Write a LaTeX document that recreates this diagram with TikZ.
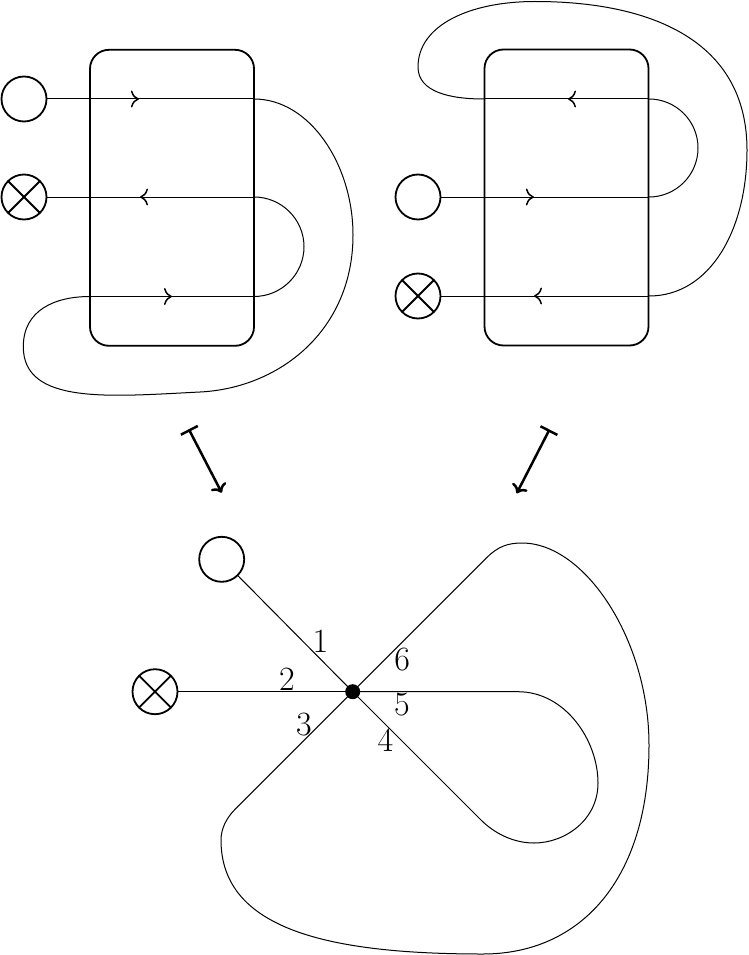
\documentclass[tikz,border=0pt]{standalone}
\usetikzlibrary{arrows.meta,decorations.markings}
\begin{document}
\begin{tikzpicture}[x=1pt,y=-1pt,
  wire/.style={line width=1pt},
  terminal/.style={circle,draw,line width=1.8pt,minimum size=45pt,inner sep=0pt},
  xterm/.style={terminal,path picture={\draw[line width=1.8pt] (path picture bounding box.north west)--(path picture bounding box.south east) (path picture bounding box.north east)--(path picture bounding box.south west);}},
  core/.style={draw,line width=1.8pt,rounded corners=19pt,minimum width=164pt,minimum height=296pt,inner sep=0pt},
  flow/.style={postaction={decorate,decoration={markings,mark=at position #1 with {\arrow[line width=1.5pt]{Computer Modern Rightarrow[length=8pt,width=17pt]}}}}},
  maps/.style={line width=2.5pt,{Bar[width=19pt]}-{Computer Modern Rightarrow[length=8pt,width=17pt]}},
  lab/.style={inner sep=0pt,font=\fontsize{34}{40}\selectfont},
  junction/.style={circle,fill,minimum size=15pt,inner sep=0pt}
]
\useasboundingbox (0,0) rectangle (748,955);

% ---------- top left ----------
\node[core] (R1) at (172,197.8) {};
\node[terminal] (a1) at (24,99) {};
\node[xterm] (a2) at (24,197) {};
\coordinate (a1r) at (254,99);
\coordinate (a2r) at (254,197);
\coordinate (a3l) at (90,296.5);
\coordinate (a3r) at (254,296.5);
\draw[wire,flow=91.5pt] (a1) -- (a1r);
\draw[wire,flow=114pt] (a2r) -- (a2);
\draw[wire,flow=82pt] (a3l) -- (a3r);
\draw[wire] (a2r) .. controls (281.5,197) and (304,219.3) .. (304,246.75)
  .. controls (304,274.2) and (281.5,296.5) .. (a3r);
\draw[wire] (a1r) .. controls (310,99) and (353,165) .. (353,235)
  .. controls (353,330) and (280,388) .. (200,392)
  .. controls (110,396.5) and (23.3,405) .. (23.3,346.7)
  .. controls (23.3,310) and (55,296.5) .. (a3l);

% ---------- top right ----------
\node[core] (R2) at (566.5,197.5) {};
\node[terminal] (b1) at (418,197) {};
\node[xterm] (b2) at (418,296) {};
\coordinate (b0l) at (484,99);
\coordinate (b0r) at (649,99);
\coordinate (b1r) at (649,197);
\coordinate (b2r) at (649,296);
\draw[wire,flow=81pt] (b0r) -- (b0l);
\draw[wire,flow=92.5pt] (b1) -- (b1r);
\draw[wire,flow=115pt] (b2r) -- (b2);
\draw[wire] (b1r) .. controls (676,197) and (698,175) .. (698,148)
  .. controls (698,121) and (676,99) .. (b0r);
\draw[wire] (b2r) .. controls (710,296) and (747,230) .. (747,150)
  .. controls (747,40) and (650,1.5) .. (535,1.5)
  .. controls (470,1.5) and (418,25) .. (418,67)
  .. controls (418,92) and (450,99) .. (b0l);

% ---------- maps-to arrows ----------
\coordinate (m1s) at (188.8,429.2);
\coordinate (m1e) at (221.7,492.7);
\coordinate (m2s) at (549.5,429.5);
\coordinate (m2e) at (516.7,493.3);
\draw[maps] (m1s) -- (m1e);
\draw[maps] (m2s) -- (m2e);

% ---------- bottom ----------
\node[terminal] (c1) at (221.7,559.3) {};
\node[xterm] (c2) at (155,691.7) {};
\coordinate (p6) at (487,557.4);
\coordinate (p3) at (235,809.4);
\coordinate (p5) at (518,691.7);
\coordinate (p4) at (481,820);
\draw[wire] (c1) -- (352.7,691.7) coordinate (Jc);
\draw[wire] (c2) -- (Jc);
\draw[wire] (Jc) -- (p6) .. controls (498,546.4) and (508,543) .. (522,543)
  .. controls (585,543) and (649,640) .. (649,745)
  .. controls (649,880) and (580,954) .. (483,954)
  .. controls (330,954) and (221,930) .. (221,840)
  .. controls (221,828) and (227,817.4) .. (p3) -- (Jc);
\draw[wire] (Jc) -- (p5) .. controls (565,691.7) and (598,740) .. (598,783)
  .. controls (598,820) and (565,843) .. (534,843)
  .. controls (512,843) and (493,832) .. (p4) -- (Jc);
\node[junction] (J) at (Jc) {};

\node[lab] (n1) at (320.4,641.7) {1};
\node[lab] (n2) at (287,678.8) {2};
\node[lab] (n3) at (303.8,725) {3};
\node[lab] (n4) at (385.5,740.5) {4};
\node[lab] (n5) at (402,705) {5};
\node[lab] (n6) at (402.2,660) {6};
\end{tikzpicture}
\end{document}
